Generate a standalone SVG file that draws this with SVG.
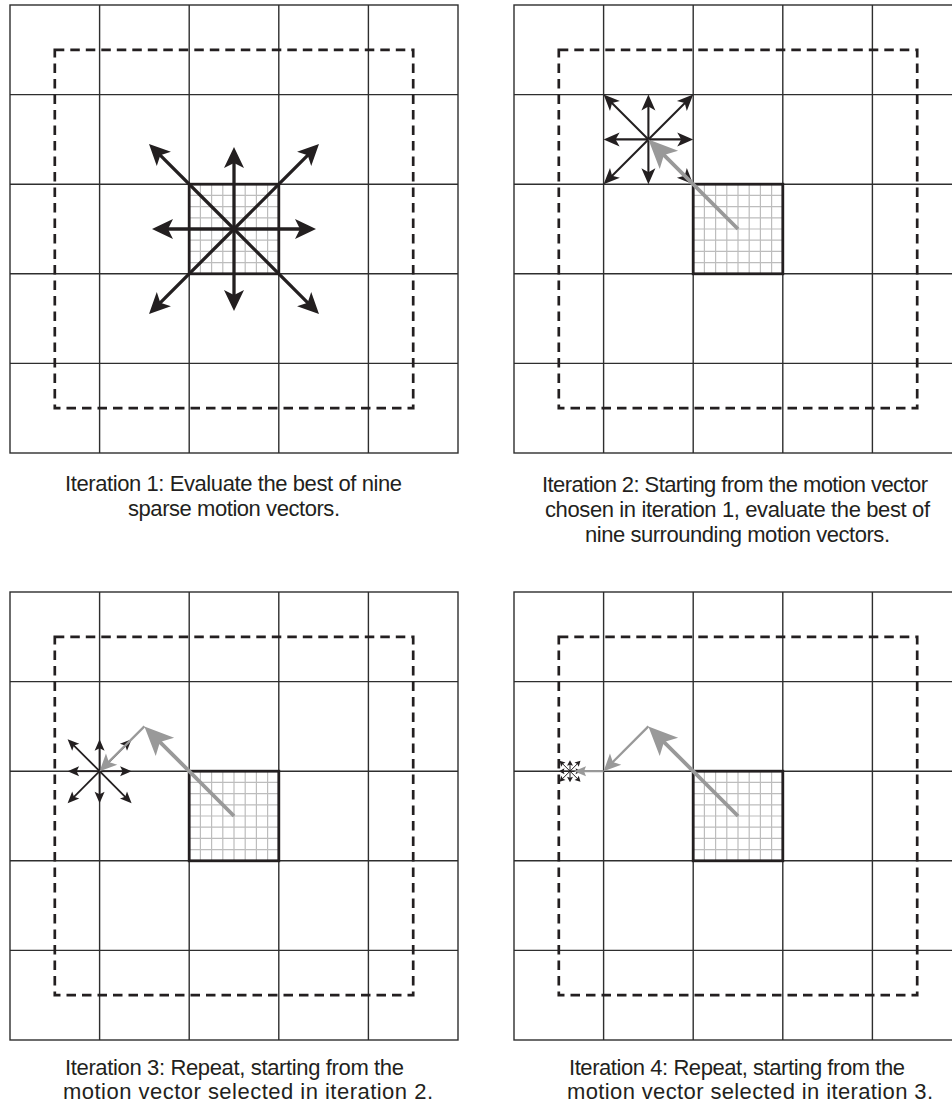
<svg xmlns="http://www.w3.org/2000/svg" xmlns:xlink="http://www.w3.org/1999/xlink" width="952" height="1103" viewBox="0 0 952 1103">
<style>
.fine{stroke:#bdbdbd;stroke-width:1.2;fill:none}
.grid{stroke:#2e2e2e;stroke-width:1.4;fill:none}
.dash{stroke:#231f20;stroke-width:2.7;fill:none;stroke-dasharray:9.5 6}
.block{stroke:#231f20;stroke-width:2.8;fill:none}
.b3{stroke:#231f20;stroke-width:3.3;fill:none}
.b2{stroke:#231f20;stroke-width:2.1;fill:none}
.b18{stroke:#231f20;stroke-width:1.8;fill:none}
.b1{stroke:#231f20;stroke-width:1;fill:none}
.g35{stroke:#999999;stroke-width:3.8;fill:none}
.g22{stroke:#999999;stroke-width:2.3;fill:none}
.g2{stroke:#999999;stroke-width:2.1;fill:none}
.cap{font-family:"Liberation Sans",Arial,Helvetica,sans-serif;font-size:22px;fill:#231f20}
</style>
<defs>
<marker id="hBig" markerUnits="userSpaceOnUse" orient="auto" markerWidth="1" markerHeight="1" refX="0" refY="0" overflow="visible"><path d="M14,0 L-7,-10 L-2,0 L-7,10 Z" fill="#231f20"/></marker>
<marker id="hMed" markerUnits="userSpaceOnUse" orient="auto" markerWidth="1" markerHeight="1" refX="0" refY="0" overflow="visible"><path d="M11,0 L-5,-7 L-1,0 L-5,7 Z" fill="#231f20"/></marker>
<marker id="hSmall" markerUnits="userSpaceOnUse" orient="auto" markerWidth="1" markerHeight="1" refX="0" refY="0" overflow="visible"><path d="M8,0 L-3.5,-5 L-1,0 L-3.5,5 Z" fill="#231f20"/></marker>
<marker id="hTiny" markerUnits="userSpaceOnUse" orient="auto" markerWidth="1" markerHeight="1" refX="0" refY="0" overflow="visible"><path d="M4,0 L-1.5,-3 L-0.5,0 L-1.5,3 Z" fill="#231f20"/></marker>
<marker id="gBig" markerUnits="userSpaceOnUse" orient="auto" markerWidth="1" markerHeight="1" refX="0" refY="0" overflow="visible"><path d="M20,0 L-9,-13 L-2,0 L-9,13 Z" fill="#999999"/></marker>
<marker id="gMed" markerUnits="userSpaceOnUse" orient="auto" markerWidth="1" markerHeight="1" refX="0" refY="0" overflow="visible"><path d="M12,0 L-5,-8 L-1,0 L-5,8 Z" fill="#999999"/></marker>
<marker id="gSmall" markerUnits="userSpaceOnUse" orient="auto" markerWidth="1" markerHeight="1" refX="0" refY="0" overflow="visible"><path d="M9,0 L-3,-5 L-1,0 L-3,5 Z" fill="#999999"/></marker>
<g id="base">
<rect x="0" y="0" width="448" height="448" fill="#fff"/>
<path class="fine" d="M190.4,179.2V268.8M201.6,179.2V268.8M212.8,179.2V268.8M224,179.2V268.8M235.2,179.2V268.8M246.4,179.2V268.8M257.6,179.2V268.8M179.2,190.4H268.8M179.2,201.6H268.8M179.2,212.8H268.8M179.2,224H268.8M179.2,235.2H268.8M179.2,246.4H268.8M179.2,257.6H268.8"/>
<path class="grid" d="M89.6,0V448M179.2,0V448M268.8,0V448M358.4,0V448M0,89.6H448M0,179.2H448M0,268.8H448M0,358.4H448"/>
<rect class="grid" x="0" y="0" width="448" height="448"/>
<rect class="dash" x="44.8" y="44.8" width="358.4" height="358.4"/>
<rect class="block" x="179.2" y="179.2" width="89.6" height="89.6"/>
</g>
</defs>
<rect width="952" height="1103" fill="#fff"/>
<g id="panel1" transform="translate(10,5)"><use xlink:href="#base" href="#base"/></g>
<g id="panel2" transform="translate(514,5)"><use xlink:href="#base" href="#base"/></g>
<g id="panel3" transform="translate(10,592)"><use xlink:href="#base" href="#base"/></g>
<g id="panel4" transform="translate(514,592)"><use xlink:href="#base" href="#base"/></g>
<g id="connectors">
<g id="arrows1" transform="translate(10,5)">
<path class="b3" marker-end="url(#hBig)" d="M224,224L224,156"/>
<path class="b3" marker-end="url(#hBig)" d="M224,224L224,292"/>
<path class="b3" marker-end="url(#hBig)" d="M224,224L156,224"/>
<path class="b3" marker-end="url(#hBig)" d="M224,224L292,224"/>
<path class="b3" marker-end="url(#hBig)" d="M224,224L148.9,148.9"/>
<path class="b3" marker-end="url(#hBig)" d="M224,224L299.1,148.9"/>
<path class="b3" marker-end="url(#hBig)" d="M224,224L148.9,299.1"/>
<path class="b3" marker-end="url(#hBig)" d="M224,224L299.1,299.1"/>
</g>
<g id="arrows2" transform="translate(514,5)">
<path class="b2" marker-end="url(#hMed)" d="M134.4,134.4L134.4,100.6"/>
<path class="b2" marker-end="url(#hMed)" d="M134.4,134.4L134.4,168.2"/>
<path class="b2" marker-end="url(#hMed)" d="M134.4,134.4L100.6,134.4"/>
<path class="b2" marker-end="url(#hMed)" d="M134.4,134.4L168.2,134.4"/>
<path class="b2" marker-end="url(#hMed)" d="M134.4,134.4L97.4,97.4"/>
<path class="b2" marker-end="url(#hMed)" d="M134.4,134.4L171.4,97.4"/>
<path class="b2" marker-end="url(#hMed)" d="M134.4,134.4L97.4,171.4"/>
<path class="b2" marker-end="url(#hMed)" d="M134.4,134.4L171.4,171.4"/>
<path class="g35" marker-end="url(#gBig)" d="M224,224L148.55,148.55"/>
</g>
<g id="arrows3" transform="translate(10,592)">
<path class="b18" marker-end="url(#hSmall)" d="M89.6,179.2L89.6,155.2"/>
<path class="b18" marker-end="url(#hSmall)" d="M89.6,179.2L89.6,203.2"/>
<path class="b18" marker-end="url(#hSmall)" d="M89.6,179.2L65.6,179.2"/>
<path class="b18" marker-end="url(#hSmall)" d="M89.6,179.2L113.6,179.2"/>
<path class="b18" marker-end="url(#hSmall)" d="M89.6,179.2L63.26,152.86"/>
<path class="b18" marker-end="url(#hSmall)" d="M89.6,179.2L115.94,152.86"/>
<path class="b18" marker-end="url(#hSmall)" d="M89.6,179.2L63.26,205.54"/>
<path class="b18" marker-end="url(#hSmall)" d="M89.6,179.2L115.94,205.54"/>
<path class="g35" marker-end="url(#gBig)" d="M224,224L148.55,148.55"/>
<path class="g22" marker-end="url(#gMed)" d="M134.4,134.4L98.09,170.71"/>
</g>
<g id="arrows4" transform="translate(514,592)">
<path class="b1" marker-end="url(#hTiny)" d="M56,179.2L56,172.2"/>
<path class="b1" marker-end="url(#hTiny)" d="M56,179.2L56,186.2"/>
<path class="b1" marker-end="url(#hTiny)" d="M56,179.2L49,179.2"/>
<path class="b1" marker-end="url(#hTiny)" d="M56,179.2L63,179.2"/>
<path class="b1" marker-end="url(#hTiny)" d="M56,179.2L48.33,171.53"/>
<path class="b1" marker-end="url(#hTiny)" d="M56,179.2L63.67,171.53"/>
<path class="b1" marker-end="url(#hTiny)" d="M56,179.2L48.33,186.87"/>
<path class="b1" marker-end="url(#hTiny)" d="M56,179.2L63.67,186.87"/>
<path class="g35" marker-end="url(#gBig)" d="M224,224L148.55,148.55"/>
<path class="g22" marker-end="url(#gMed)" d="M134.4,134.4L98.09,170.71"/>
<path class="g2" marker-end="url(#gSmall)" d="M89.6,179.2L69,179.2"/>
</g>
</g>
<g id="captions">
<text class="cap" x="65" y="491" textLength="337" lengthAdjust="spacing">Iteration 1: Evaluate the best of nine</text>
<text class="cap" x="128" y="516" textLength="212" lengthAdjust="spacing">sparse motion vectors.</text>
<text class="cap" x="542" y="492" textLength="386" lengthAdjust="spacing">Iteration 2: Starting from the motion vector</text>
<text class="cap" x="545" y="517" textLength="385" lengthAdjust="spacing">chosen in iteration 1, evaluate the best of</text>
<text class="cap" x="585" y="542" textLength="305" lengthAdjust="spacing">nine surrounding motion vectors.</text>
<text class="cap" x="65" y="1075" textLength="339" lengthAdjust="spacing">Iteration 3: Repeat, starting from the</text>
<text class="cap" x="63" y="1099" textLength="370" lengthAdjust="spacing">motion vector selected in iteration 2.</text>
<text class="cap" x="569" y="1075" textLength="336" lengthAdjust="spacing">Iteration 4: Repeat, starting from the</text>
<text class="cap" x="567" y="1099" textLength="366" lengthAdjust="spacing">motion vector selected in iteration 3.</text>
</g>
</svg>
